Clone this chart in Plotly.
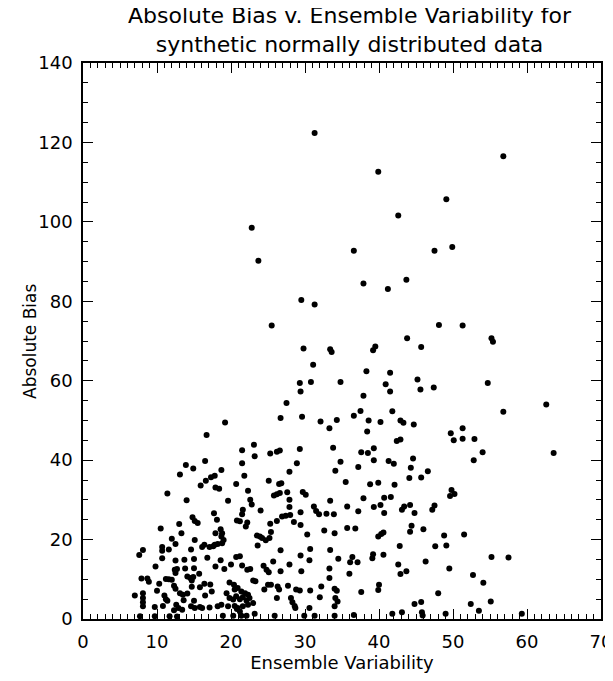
import plotly.graph_objects as go

ens_var = [
    # upper part
    31.3, 22.8, 23.7, 29.5, 31.3, 25.5,
    56.8, 39.9, 49.1, 42.6, 36.6, 47.5, 49.9, 37.9, 41.2, 43.7, 48.1, 51.3,
    # band 38-70
    16.7, 16.5, 13.9, 14.9,
    29.8, 33.4, 33.6, 31.1, 29.3, 30.8, 34.8, 29.4, 27.5, 19.2, 26.7, 29.6, 32.1, 34.3,
    33.3, 21.5, 23.1, 23.2, 25.3, 26.2, 26.6, 29.3, 33.8, 21.5, 28.9, 34.8, 18.7,
    43.8, 39.5, 39.2, 45.7, 38.3, 41.5, 40.9, 45.2, 41.5, 45.6, 47.4, 37.9, 36.6, 37.5,
    38.6, 40.2, 41.8, 42.9, 43.3, 44.7, 38.4, 42.4, 42.9, 49.7, 51.3, 50.1, 51.3, 37.6,
    38.5, 39.3, 39.3, 41.3, 42.0, 44.6, 44.3, 37.2,
    55.2, 55.4, 54.7, 56.8, 62.6, 52.9, 54.0, 52.8, 63.6,
    # lower left
    13.1, 15.9, 16.6, 17.3, 17.8, 17.9, 18.4, 11.4, 14.0, 14.8, 15.1, 15.5, 17.7, 18.1,
    13.0, 10.5, 13.3, 17.9, 12.0, 12.5, 8.1, 7.6, 10.7, 10.7, 11.6, 14.6, 15.1, 16.1,
    16.4, 17.1, 17.6, 17.8, 18.2, 10.7, 12.5, 13.7, 15.0, 16.8, 9.8, 12.4, 12.7, 12.5,
    13.8, 15.0, 17.9, 14.1, 14.5, 14.9, 14.7, 15.7, 7.9, 8.7, 8.9, 11.2, 11.6, 12.0,
    10.3, 12.3, 12.5, 14.7, 15.8, 16.4, 17.2, 17.4, 10.0, 7.0, 8.1, 8.1, 8.1, 8.1,
    11.0, 11.2, 11.4, 13.1, 13.5, 14.1, 13.6, 15.0, 16.5, 9.7, 10.8, 12.6, 12.9, 12.3,
    13.4, 14.6, 15.1, 15.8, 16.1, 17.1, 18.2, 7.7, 9.7, 11.7, 12.7,
    # lower middle
    27.9, 34.1, 21.8, 20.7, 25.1, 26.5, 26.8, 35.5, 22.3, 25.8, 26.2, 26.6, 27.6, 29.7,
    30.1, 19.6, 22.6, 22.8, 27.9, 33.4, 35.7, 24.0, 21.6, 21.5, 27.9, 29.4, 31.2, 31.5,
    31.9, 32.9, 33.9, 20.8, 21.2, 22.2, 22.0, 25.3, 26.2, 26.9, 27.4, 28.0, 28.5, 29.4,
    32.6, 34.0, 35.7, 18.6, 18.8, 18.7, 19.0, 18.8, 23.5, 23.9, 24.2, 24.7, 25.2, 25.4,
    23.6, 30.3, 26.7, 30.7, 33.4, 18.6, 19.1, 20.0, 20.7, 21.2, 21.5, 22.2, 22.6, 24.4,
    24.8, 25.1, 25.7, 26.7, 27.9, 29.4, 30.6, 29.5, 33.3, 34.5, 23.0, 23.3, 19.8, 20.4,
    33.3, 25.0, 25.4, 26.3, 26.5, 27.7, 28.8, 29.3, 30.7, 32.2, 34.0, 34.3, 24.5, 19.4,
    20.5, 20.9, 21.4, 21.9, 22.3, 22.5, 19.8, 20.3, 20.7, 21.2, 21.6, 22.1, 18.7, 19.6,
    20.5, 20.9, 21.6, 22.3, 23.0, 26.2, 28.1, 28.3, 28.6, 28.7, 32.0, 34.1, 34.4, 34.0,
    30.6, 20.8, 21.2, 23.2, 18.9, 20.3, 21.4, 22.1, 25.9, 29.9, 31.3, 34.0,
    # lower right
    46.6, 44.1, 45.7, 38.8, 39.9, 42.1, 49.8, 50.2, 49.6, 37.9, 40.7, 41.6, 40.2, 39.3,
    37.2, 40.7, 43.4, 43.1, 44.2, 44.8, 47.5, 47.2, 36.8, 39.9, 40.3, 40.6, 44.4, 44.2,
    46.0, 48.8, 51.5, 36.4, 36.1, 37.1, 39.2, 39.1, 40.6, 42.8, 47.6, 49.1, 46.3, 42.6,
    43.7, 42.9, 36.0, 49.5, 40.0, 39.9, 37.6, 48.0, 44.8, 45.7, 36.6, 41.8, 43.1, 45.8,
    45.9, 49.0,
    55.2, 57.5, 52.7, 54.1, 52.4, 55.1, 53.5, 59.3,
]

abs_bias = [
    # upper part
    122.4, 98.5, 90.2, 80.3, 79.2, 73.9,
    116.5, 112.6, 105.7, 101.6, 92.7, 92.7, 93.7, 84.5, 83.1, 85.4, 74.0, 73.9,
    # band 38-70
    46.3, 39.8, 38.8, 37.9,
    68.1, 67.9, 67.2, 64.0, 59.4, 59.7, 59.7, 57.3, 54.4, 49.5, 50.6, 50.9, 49.7, 50.1,
    48.0, 42.5, 43.9, 41.0, 41.7, 42.1, 42.4, 42.8, 43.1, 39.2, 39.2, 39.6, 37.5,
    70.7, 68.6, 67.7, 68.5, 62.4, 62.0, 59.1, 60.3, 57.3, 57.8, 58.3, 56.2, 51.2, 52.4,
    50.0, 49.6, 52.3, 50.0, 49.4, 49.0, 47.2, 44.8, 45.2, 46.8, 48.0, 45.0, 45.4, 42.0,
    41.8, 43.0, 40.0, 39.8, 39.1, 40.4, 38.1, 38.3,
    70.7, 69.8, 59.4, 52.2, 54.0, 45.3, 42.0, 40.0, 41.8,
    # lower left
    36.4, 33.6, 34.8, 35.7, 36.1, 33.1, 32.8, 31.6, 29.9, 25.6, 24.7, 24.2, 26.6, 25.0,
    23.9, 22.8, 21.6, 21.6, 20.2, 18.9, 17.4, 16.1, 18.1, 17.2, 17.5, 17.5, 19.9, 18.1,
    18.7, 18.1, 18.3, 18.7, 18.9, 15.3, 14.7, 14.9, 15.1, 15.4, 13.2, 12.4, 12.6, 11.6,
    12.7, 12.8, 13.2, 10.7, 10.3, 10.6, 9.7, 11.4, 10.2, 10.2, 9.4, 10.1, 10.0, 9.9,
    8.9, 8.4, 7.6, 8.1, 8.0, 8.9, 8.7, 6.9, 7.1, 5.9, 6.5, 5.3, 4.2, 3.2,
    5.9, 5.0, 4.6, 6.5, 6.1, 6.4, 4.7, 4.6, 5.9, 3.0, 3.3, 3.6, 2.8, 2.2,
    2.3, 3.2, 2.8, 3.0, 2.8, 2.9, 3.2, 0.7, 0.7, 0.7, 0.6,
    # lower middle
    37.1, 37.3, 36.1, 34.0, 34.8, 34.0, 34.2, 34.5, 32.3, 31.1, 31.4, 31.7, 31.9, 32.0,
    31.3, 29.8, 30.0, 28.8, 30.0, 29.8, 28.3, 27.3, 27.5, 26.4, 28.2, 26.9, 28.3, 27.2,
    26.4, 26.5, 26.4, 24.8, 24.6, 24.3, 23.3, 24.0, 24.7, 25.8, 26.0, 26.2, 24.4, 23.7,
    22.3, 21.6, 22.9, 22.6, 21.6, 20.8, 19.9, 19.1, 21.0, 20.8, 20.4, 19.8, 20.4, 21.9,
    18.5, 21.3, 17.3, 17.6, 17.4, 14.8, 12.6, 13.7, 15.6, 15.8, 13.5, 12.4, 12.6, 13.4,
    12.4, 11.8, 14.5, 12.0, 13.7, 16.0, 14.8, 12.0, 12.7, 15.2, 9.7, 9.5, 9.2, 8.6,
    10.3, 8.6, 8.6, 8.2, 7.4, 8.4, 7.4, 7.2, 7.2, 8.2, 7.6, 7.1, 7.4, 6.5,
    7.4, 7.8, 6.9, 6.5, 6.1, 5.3, 5.3, 4.9, 5.7, 5.0, 5.5, 4.6, 3.6, 3.2,
    3.3, 2.8, 3.2, 3.6, 4.0, 5.3, 5.3, 4.2, 3.3, 2.8, 5.5, 5.3, 4.4, 3.2,
    2.8, 2.5, 1.9, 1.3, 0.8, 0.8, 0.8, 0.8, 0.8, 0.8, 0.8, 0.8,
    # lower right
    37.2, 35.5, 35.6, 33.9, 34.3, 33.8, 32.5, 31.5, 31.0, 30.4, 30.5, 30.7, 28.7, 28.2,
    27.1, 26.7, 28.3, 27.5, 28.7, 26.7, 28.6, 27.5, 22.8, 20.8, 21.4, 21.8, 23.5, 22.0,
    22.6, 21.0, 21.3, 15.6, 14.3, 14.3, 16.3, 15.3, 16.2, 18.4, 18.3, 18.5, 14.5, 13.7,
    12.0, 11.3, 11.4, 12.7, 8.6, 7.3, 6.8, 6.5, 3.8, 4.3, 1.0, 1.3, 1.7, 1.7,
    0.9, 1.3,
    15.6, 15.5, 11.1, 9.1, 3.8, 4.4, 2.1, 1.3,
]

x_ticks = [0, 10, 20, 30, 40, 50, 60, 70]
y_ticks = [0, 20, 40, 60, 80, 100, 120, 140]

TITLE = "Absolute Bias v. Ensemble Variability for<br>synthetic normally distributed data"
FONT = "DejaVu Sans"

fig = go.Figure()
fig.add_trace(go.Scatter(
    x=ens_var,
    y=abs_bias,
    mode="markers",
    marker=dict(size=6, color="black", line=dict(width=0)),
    cliponaxis=False,
    showlegend=False,
))

axis_common = dict(
    showline=True, linecolor="black", linewidth=1.5, mirror="ticks",
    ticks="inside", tickcolor="black", tickwidth=1, ticklen=10,
    showgrid=False, zeroline=False, automargin=False,
    ticklabeloverflow="allow",
    tickfont=dict(family=FONT, size=18, color="black"),
)

fig.update_xaxes(
    range=[0, 70], tickvals=x_ticks, ticktext=[str(v) for v in x_ticks],
    minor=dict(dtick=1, ticks="inside", ticklen=5, tickcolor="black", tickwidth=1),
    ticklabelstandoff=6,
    title=dict(text="Ensemble Variability", font=dict(family=FONT, size=18, color="black"), standoff=4),
    **axis_common,
)
fig.update_yaxes(
    range=[0, 140], tickvals=y_ticks, ticktext=[str(v) for v in y_ticks],
    minor=dict(dtick=5, ticks="inside", ticklen=5, tickcolor="black", tickwidth=1),
    ticklabelstandoff=5,
    **axis_common,
)

# y title as an annotation so it sits where the original has it
fig.add_annotation(
    text="Absolute Bias", textangle=-90, showarrow=False,
    xref="paper", yref="paper", x=0, y=0.5, xanchor="center", yanchor="middle",
    xshift=-53, font=dict(family=FONT, size=17, color="black"),
)

# two-line title, centred a little right of the plot centre like the original
fig.add_annotation(
    text=TITLE, showarrow=False,
    xref="paper", yref="paper", x=0.5, y=1, xanchor="center", yanchor="middle",
    xshift=8, yshift=33,
    font=dict(family=FONT, size=22, color="black"),
)

# the page body adds an 8px offset, margins are set with that in mind
fig.update_layout(
    width=613, height=681,
    paper_bgcolor="white", plot_bgcolor="white",
    margin=dict(l=75, r=20, t=55, b=70),
)

fig.write_html("out.html")
